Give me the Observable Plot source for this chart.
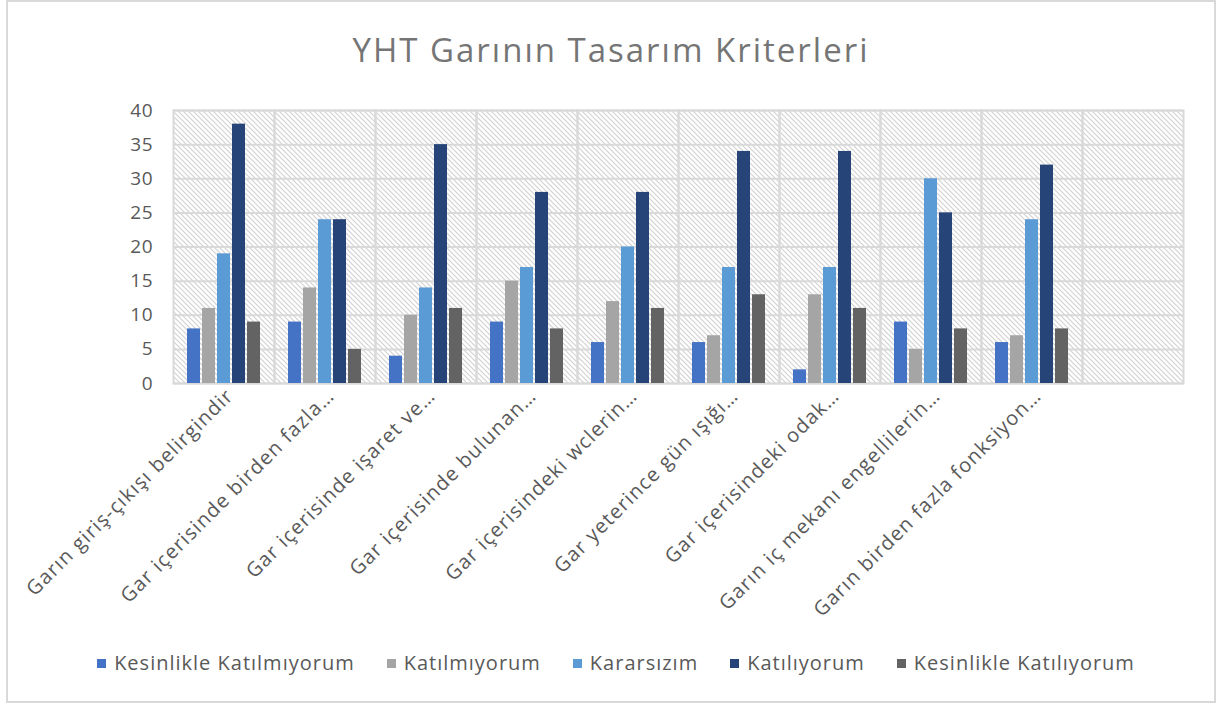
<!DOCTYPE html>
<html>
<head>
<meta charset="utf-8">
<script src="https://cdn.jsdelivr.net/npm/d3@7"></script>
<script src="https://cdn.jsdelivr.net/npm/@observablehq/plot@0.6"></script>
<style>
  html, body { margin: 0; padding: 0; background: #fff; }
  #wrap { position: relative; width: 1232px; height: 705px; font-family: "Open Sans", sans-serif; }
  #border { position: absolute; left: 6px; top: 0px; width: 1210px; height: 703px; border: 2px solid #d9d9d9; box-sizing: border-box; }
  #title { position: absolute; left: 0; width: 1222px; top: 28px; text-align: center; font-size: 33px; letter-spacing: 2px; color: #757575; line-height: 44px; }
  #chart { position: absolute; left: 0; top: 85px; }
  #chart svg text { letter-spacing: 0.8px; }
  #chart svg g[aria-label="fx-axis tick label"] text { letter-spacing: 1.2px; }
  #legend { position: absolute; left: 0; width: 1232px; top: 649px; display: flex; justify-content: center; font-size: 20px; letter-spacing: 1px; color: #595959; line-height: 28px; }
  .item { display: flex; align-items: center; margin: 0 16px; }
  .sw { width: 9px; height: 9px; margin-right: 8px; }
</style>
</head>
<body>
<div id="wrap">
  <div id="border"></div>
  <div id="title">YHT Garının Tasarım Kriterleri</div>
  <div id="chart"></div>
  <div id="legend"></div>
</div>
<script>
const categories = [
  "Garın giriş-çıkışı belirgindir",
  "Gar içerisinde birden fazla…",
  "Gar içerisinde işaret ve…",
  "Gar içerisinde bulunan…",
  "Gar içerisindeki wclerin…",
  "Gar yeterince gün ışığı…",
  "Gar içerisindeki odak…",
  "Garın iç mekanı engellilerin…",
  "Garın birden fazla fonksiyon…",
  ""
];
const seriesNames = ["Kesinlikle Katılmıyorum", "Katılmıyorum", "Kararsızım", "Katılıyorum", "Kesinlikle Katılıyorum"];
const seriesColors = ["#4472C4", "#A5A5A5", "#5B9BD5", "#264478", "#636363"];
const kesinlikleKatilmiyorum = [8, 9, 4, 9, 6, 6, 2, 9, 6];
const katilmiyorum = [11, 14, 10, 15, 12, 7, 13, 5, 7];
const kararsizim = [19, 24, 14, 17, 20, 17, 17, 30, 24];
const katiliyorum = [38, 24, 35, 28, 28, 34, 34, 25, 32];
const kesinlikleKatiliyorum = [9, 5, 11, 8, 11, 13, 11, 8, 8];
const yTicks = [0, 5, 10, 15, 20, 25, 30, 35, 40];

const seriesValues = [kesinlikleKatilmiyorum, katilmiyorum, kararsizim, katiliyorum, kesinlikleKatiliyorum];
const rows = [];
seriesValues.forEach((vals, s) => {
  vals.forEach((v, i) => rows.push({cat: categories[i], series: seriesNames[s], value: v}));
});

const plot = Plot.plot({
  width: 1232,
  height: 560,
  marginLeft: 171,
  marginRight: 47,
  marginTop: 25,
  marginBottom: 262,
  style: {fontFamily: "Open Sans", fontSize: "19px", color: "#595959", background: "transparent"},
  fx: {domain: categories, padding: 0, label: null, axis: null},
  x: {domain: seriesNames, paddingInner: 0.15, paddingOuter: 0.8, axis: null},
  y: {domain: [0, 40], label: null, axis: null},
  color: {domain: seriesNames, range: seriesColors},
  marks: [
    Plot.barY(categories, {fx: d => d, y1: () => yTicks[0], y2: () => yTicks[yTicks.length - 1], fill: "url(#hatch)"}),
    Plot.ruleY(yTicks, {stroke: "#d9d9d9", strokeWidth: 2}),
    Plot.frame({stroke: "#d9d9d9", strokeWidth: 2}),
    Plot.barY(rows, {fx: "cat", x: "series", y: "value", fill: "series"}),
    Plot.axisY({ticks: yTicks, tickSize: 0, tickPadding: 20, fontSize: 19, label: null, fill: "#595959"}),
    Plot.axisFx({anchor: "bottom", tickRotate: -45, tickSize: 0, tickPadding: 9, dx: 6, fontSize: 20, label: null, fill: "#595959"})
  ]
});

const defs = d3.select(plot).insert("defs", ":first-child");
const pat = defs.append("pattern")
  .attr("id", "hatch").attr("patternUnits", "userSpaceOnUse")
  .attr("width", 5).attr("height", 5);
pat.append("rect").attr("width", 5).attr("height", 5).attr("fill", "#ffffff");
pat.append("path").attr("d", "M0,0L5,5M-1,4L1,6M4,-1L6,1")
  .attr("stroke", "#d2d2d2").attr("stroke-width", 1.2);

document.getElementById("chart").appendChild(plot);

const legend = d3.select("#legend");
seriesNames.forEach((name, i) => {
  const it = legend.append("div").attr("class", "item");
  it.append("div").attr("class", "sw").style("background", seriesColors[i]);
  it.append("span").text(name);
});
</script>
</body>
</html>
